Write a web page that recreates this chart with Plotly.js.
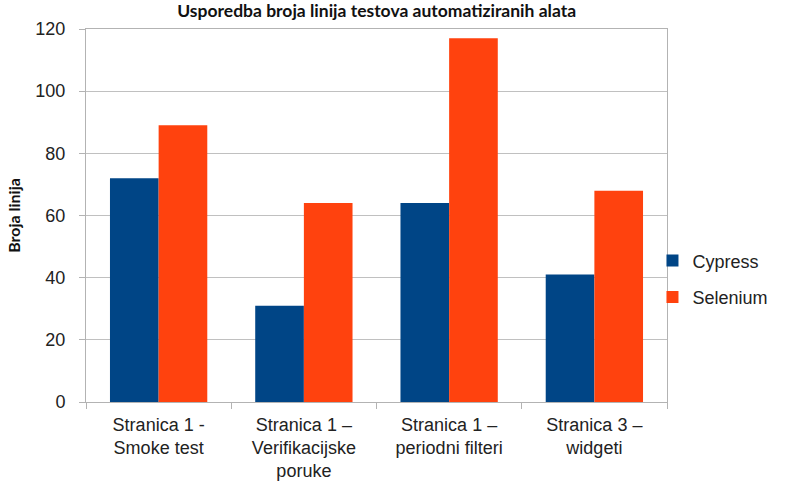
<!DOCTYPE html>
<html>
<head>
<meta charset="utf-8">
<script src="https://cdn.plot.ly/plotly-3.0.1.min.js"></script>
<style>html,body{margin:0;padding:0;background:#fff}#chart{width:788px;height:483px}</style>
</head>
<body>
<div id="chart"></div>
<script>
const categories = ["Stranica 1 -<br>Smoke test", "Stranica 1 –<br>Verifikacijske<br>poruke", "Stranica 1 –<br>periodni filteri", "Stranica 3 –<br>widgeti"];
const cypress = [72, 31, 64, 41];
const selenium = [89, 64, 117, 68];
const yTicks = [0, 20, 40, 60, 80, 100, 120];

const traces = [
  {type: "bar", name: "Cypress", x: categories, y: cypress, marker: {color: "#004586"}, legendgroup: "a"},
  {type: "bar", name: "Selenium", x: categories, y: selenium, marker: {color: "#ff420e"}, legendgroup: "b"}
];

const layout = {
  width: 788, height: 483,
  margin: {l: 86, r: 121, t: 29, b: 81},
  paper_bgcolor: "#fff", plot_bgcolor: "#fff",
  barmode: "group", bargap: 0.33, bargroupgap: 0,
  font: {family: "Liberation Sans, Arial, sans-serif", size: 18, color: "#222"},
  title: {text: "<b>Usporedba broja linija testova automatiziranih alata</b>", font: {family: "Lato, Carlito, sans-serif", size: 17.5, color: "#111"}, x: 0.478, xanchor: "center", y: 0.99, yanchor: "top"},
  xaxis: {
    type: "category", showline: true, linecolor: "#b3b3b3", linewidth: 1, mirror: true,
    ticks: "outside", tickson: "boundaries", ticklen: 6, tickcolor: "#b3b3b3",
    showgrid: false, tickfont: {size: 18, color: "#222"}, ticklabelstandoff: 6
  },
  yaxis: {
    range: [0, 120], tickvals: yTicks, ticktext: yTicks.map(String),
    showline: true, linecolor: "#b3b3b3", linewidth: 1, mirror: true,
    ticks: "outside", ticklen: 6, tickcolor: "#b3b3b3",
    gridcolor: "#c0c0c0", zeroline: false,
    tickfont: {size: 18, color: "#222"}, ticklabelstandoff: 10,
    title: {text: "<b>Broja linija</b>", font: {family: "Lato, Carlito, sans-serif", size: 16, color: "#111"}, standoff: 10}
  },
  legend: {x: 0.975, xanchor: "left", y: 0.33, yanchor: "middle", traceorder: "grouped", tracegroupgap: 10, bgcolor: "rgba(0,0,0,0)", font: {size: 18, color: "#222"}, itemwidth: 30},
  showlegend: true
};

Plotly.newPlot("chart", traces, layout, {displayModeBar: false, staticPlot: true});
</script>
</body>
</html>
